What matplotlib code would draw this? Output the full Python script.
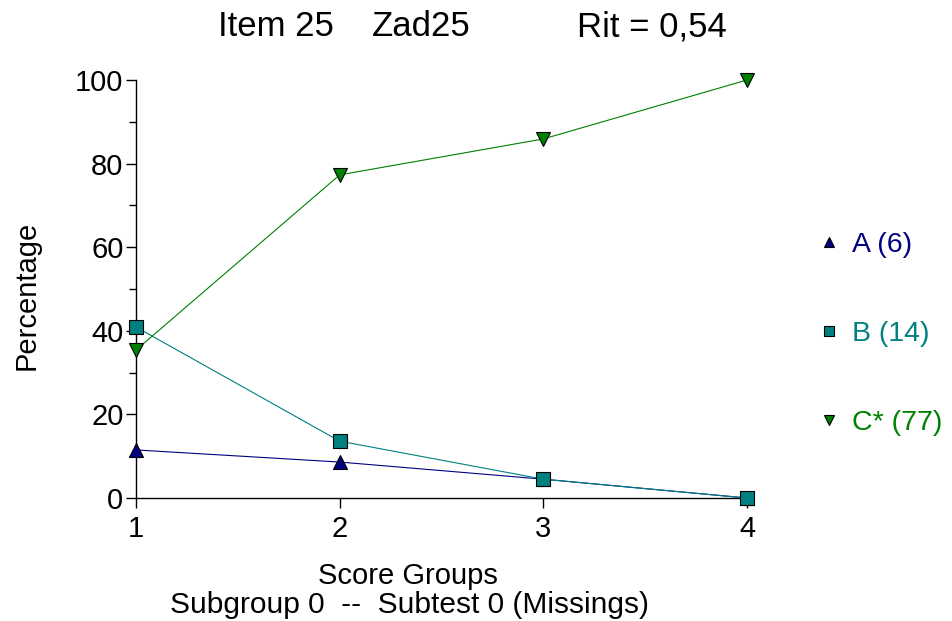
import matplotlib
matplotlib.use("Agg")
import matplotlib.pyplot as plt
from matplotlib.ticker import MultipleLocator

plt.rcParams['font.family'] = ['Liberation Sans', 'DejaVu Sans']

groups = [1, 2, 3, 4]
series_names = ["A (6)", "B (14)", "C* (77)"]
a_vals = [11.5, 8.6, 4.5, 0.0]
b_vals = [40.9, 13.6, 4.5, 0.0]
c_vals = [35.4, 77.3, 85.9, 100.0]
colors = ["#000080", "#008080", "#008000"]
markers = ["^", "s", "v"]
title_parts = ["Item 25", "Zad25", "Rit = 0,54"]

fig = plt.figure(figsize=(9.53, 6.21), dpi=100)
ax = fig.add_axes([136/953, 1-498/621, (747-136)/953, (498-80)/621])

for vals, col, mk, name in zip([a_vals, b_vals, c_vals], colors, markers, series_names):
    ax.plot(groups, vals, color=col, lw=0.8, marker=mk, markersize=10,
            markerfacecolor=col, markeredgecolor="black", markeredgewidth=0.8,
            label=name, clip_on=False, zorder=3)

ax.set_xlim(1, 4)
ax.set_ylim(0, 100)
ax.set_xticks(groups)
ax.yaxis.set_major_locator(MultipleLocator(20))
ax.yaxis.set_minor_locator(MultipleLocator(10))
for s in ["top", "right"]:
    ax.spines[s].set_visible(False)
for s in ["left", "bottom"]:
    ax.spines[s].set_linewidth(1.0)
ax.tick_params(axis='both', which='major', labelsize=21, length=7, width=1, direction='out', pad=2)
ax.tick_params(axis='y', which='minor', length=5, width=1, direction='out')
ax.tick_params(axis='x', pad=5)

for txt, x in zip(title_parts, [218, 372, 577]):
    fig.text(x/953, 1-27/621, txt, ha='left', va='center', fontsize=25)
fig.text(27/953, 1-295/621, "Percentage", rotation=90, ha='center', va='center', fontsize=21)
fig.text(408/953, 1-576/621, "Score Groups", ha='center', va='center', fontsize=21)
fig.text(410/953, 1-605/621, "Subgroup 0  --  Subtest 0 (Missings)", ha='center', va='center', fontsize=21.5)

leg_handles = []
for col, mk, name in zip(colors, markers, series_names):
    h, = ax.plot([], [], linestyle='none', marker=mk, markersize=7, color=col,
                 markeredgecolor='black', markeredgewidth=0.8, label=name)
    leg_handles.append(h)
fig.legend(handles=leg_handles, loc='upper left', bbox_to_anchor=(815/953, 1-232/621),
           frameon=False, fontsize=20.5, labelspacing=2.22, handlelength=1.0,
           handletextpad=0.3, labelcolor=colors, borderaxespad=0, borderpad=0)

fig.savefig("out.png", dpi=100)
